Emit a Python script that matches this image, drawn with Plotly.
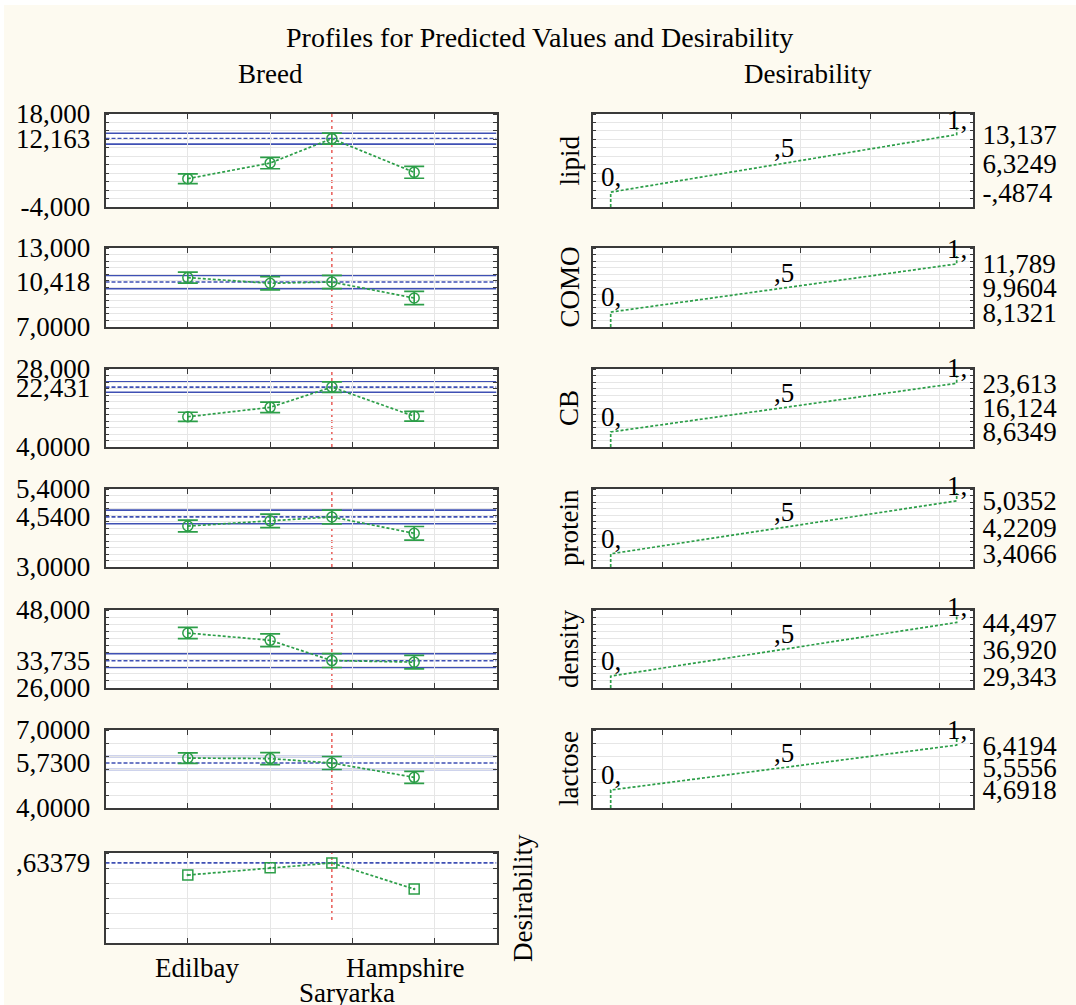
import plotly.graph_objects as go

W, H = 1076, 1005

# ---------------- data ----------------
responses = ["lipid", "COMO", "CB", "protein", "density", "lactose"]
breed_labels = ["Edilbay", "Saryarka", "Hampshire"]
x_levels = [1, 2, 2.75, 3.75]          # positions of the four factor levels on the breed axis
current_idx = 2                          # current setting (red line)

means = {
    "lipid":   [2.7, 6.4, 12.163, 4.2],
    "COMO":    [10.75, 10.32, 10.418, 9.2],
    "CB":      [13.3, 16.2, 22.431, 13.45],
    "protein": [4.26, 4.42, 4.54, 4.036],
    "density": [41.5, 39.45, 33.735, 33.3],
    "lactose": [5.92, 5.90, 5.73, 5.18],
}
errs = {
    "lipid":   [1.15, 1.35, 1.3, 1.4],
    "COMO":    [0.42, 0.5, 0.5, 0.5],
    "CB":      [1.4, 1.6, 1.6, 1.5],
    "protein": [0.18, 0.21, 0.21, 0.21],
    "density": [1.6, 1.8, 1.95, 1.9],
    "lactose": [0.2, 0.23, 0.25, 0.23],
}
y_ranges = {
    "lipid": [-4, 18], "COMO": [7, 13], "CB": [4, 28],
    "protein": [3, 5.4], "density": [26, 48], "lactose": [4, 7],
}
y_steps = {"lipid": 2, "COMO": 0.5, "CB": 2, "protein": 0.2, "density": 2, "lactose": 0.5}
left_ticktext = {
    "lipid":   ["18,000", "12,163", "-4,000"],
    "COMO":    ["13,000", "10,418", "7,0000"],
    "CB":      ["28,000", "22,431", "4,0000"],
    "protein": ["5,4000", "4,5400", "3,0000"],
    "density": ["48,000", "33,735", "26,000"],
    "lactose": ["7,0000", "5,7300", "4,0000"],
}
# desirability function: response values giving desirability 0, .5, 1
desir_vals = {
    "lipid":   [-0.4874, 6.3249, 13.137],
    "COMO":    [8.1321, 9.9604, 11.789],
    "CB":      [8.6349, 16.124, 23.613],
    "protein": [3.4066, 4.2209, 5.0352],
    "density": [29.343, 36.920, 44.497],
    "lactose": [4.6918, 5.5556, 6.4194],
}
desir_ticktext = {
    "lipid":   ["-,4874", "6,3249", "13,137"],
    "COMO":    ["8,1321", "9,9604", "11,789"],
    "CB":      ["8,6349", "16,124", "23,613"],
    "protein": ["3,4066", "4,2209", "5,0352"],
    "density": ["29,343", "36,920", "44,497"],
    "lactose": ["4,6918", "5,5556", "6,4194"],
}
desir_levels = [0, 0.5, 1]
desir_level_text = ["0,", ",5", "1,"]

overall_desir = [0.553, 0.602, 0.63379, 0.46]
overall_range = [0.1, 0.7]
overall_ticktext = [",63379"]
overall_redline_low = 0.253

# ---------------- style ----------------
FONT = "Liberation Serif, Times New Roman, serif"
green = "#2C9E48"
blue = "#3F50B4"
red = "#E5413B"
axcol = "#3A3A3A"
gridcol = "#E6E6E6"
cream = "#FDFAF0"

left_xdom = [105.5 / W, 496.5 / W]
right_xdom = [592.7 / W, 973.3 / W]
panels_px = [(114, 207), (248, 327), (369, 447), (489, 567), (610, 688), (730, 808), (853, 943)]
left_xrange = [0, 4.75]
left_xgrid = [1, 2, 3, 4]
right_xrange = [-0.052, 1.048]


def ydom(top, bot):
    return [1 - bot / H, 1 - top / H]


fig = go.Figure()
layout = {}
shapes = []
annotations = []


def left_xaxis(n):
    return dict(domain=left_xdom, anchor=f"y{n}", range=left_xrange, tickmode="array",
                tickvals=left_xgrid, showticklabels=False, ticks="inside", ticklen=5,
                tickcolor=axcol, showgrid=True, gridcolor=gridcol, zeroline=False,
                showline=True, linecolor=axcol, linewidth=1.5, mirror="ticks", fixedrange=True,
                automargin=False)


def yaxis_common(n, dom, rng, step, side):
    return dict(domain=dom, anchor=f"x{n}", range=rng, side=side, ticks="", showgrid=False,
                zeroline=False, showline=True, linecolor=axcol, linewidth=1.5, mirror="ticks",
                tickfont=dict(family=FONT, size=27, color="black"),
                ticklabelstandoff=8 if side == "left" else 2,
                minor=dict(tickmode="linear", tick0=rng[0], dtick=step, ticks="inside", ticklen=4,
                           tickcolor=axcol, showgrid=True, gridcolor=gridcol),
                fixedrange=True, automargin=False)


for i, r in enumerate(responses):
    L, R = 2 * i + 1, 2 * i + 2
    top, bot = panels_px[i]
    dom = ydom(top, bot)
    lo, hi = y_ranges[r]
    m, e = means[r], errs[r]
    cur, ci = m[current_idx], e[current_idx]

    xl = "xaxis" if L == 1 else f"xaxis{L}"
    yl = "yaxis" if L == 1 else f"yaxis{L}"
    layout[xl] = left_xaxis(L)
    ya = yaxis_common(L, dom, [lo, hi], y_steps[r], "left")
    ya.update(tickmode="array", tickvals=[hi, cur, lo], ticktext=left_ticktext[r])
    layout[yl] = ya

    layout[f"xaxis{R}"] = dict(domain=right_xdom, anchor=f"y{R}", range=right_xrange,
                               tickmode="linear", tick0=0.15, dtick=0.2, showticklabels=False,
                               ticks="inside", ticklen=5, tickcolor=axcol, showgrid=True,
                               gridcolor=gridcol, zeroline=False, showline=True, linecolor=axcol,
                               linewidth=1.5, mirror="ticks", fixedrange=True, automargin=False)
    yr = yaxis_common(R, dom, [lo, hi], y_steps[r], "right")
    yr.update(tickmode="array", tickvals=desir_vals[r], ticktext=desir_ticktext[r])
    layout[f"yaxis{R}"] = yr

    xref_l = "x" if L == 1 else f"x{L}"
    yref_l = "y" if L == 1 else f"y{L}"

    # horizontal lines for current predicted value and CI
    for yv, dash, wd in [(cur + ci, "solid", 1.6), (cur - ci, "solid", 1.6), (cur, "4px,2px", 1.7)]:
        shapes.append(dict(type="line", xref=xref_l, x0=left_xrange[0], x1=left_xrange[1],
                           yref=yref_l, y0=yv, y1=yv,
                           line=dict(color=blue, width=wd, dash=dash), layer="below"))
    # red current-level line
    shapes.append(dict(type="line", xref=xref_l, x0=x_levels[current_idx], x1=x_levels[current_idx],
                       yref=yref_l, y0=lo, y1=hi,
                       line=dict(color=red, width=1.3, dash="dot"), layer="below"))

    fig.add_trace(go.Scatter(
        x=x_levels, y=m, xaxis=xref_l, yaxis=yref_l, mode="lines+markers",
        line=dict(color=green, width=1.7, dash="3px,2px"),
        marker=dict(symbol="circle-open", size=10, color=green, line=dict(width=1.5)),
        error_y=dict(type="data", array=e, color=green, thickness=1.7, width=10),
        showlegend=False, hoverinfo="skip"))

    # desirability function
    dl, dm, dh = desir_vals[r]
    dtop = dh + 0.1 * (hi - lo)
    fig.add_trace(go.Scatter(
        x=[desir_levels[0], desir_levels[0], desir_levels[2], desir_levels[2]],
        y=[lo, dl, dh, dtop], xaxis=f"x{R}", yaxis=f"y{R}", mode="lines",
        line=dict(color=green, width=1.7, dash="3px,2px"), showlegend=False, hoverinfo="skip",
        cliponaxis=False))
    for lev, yv, txt in zip(desir_levels, desir_vals[r], desir_level_text):
        annotations.append(dict(xref=f"x{R}", yref=f"y{R}", x=lev, y=yv, text=txt,
                                showarrow=False, xanchor="center", yanchor="bottom", yshift=-2,
                                font=dict(family=FONT, size=27, color="black")))
    # response name
    annotations.append(dict(xref="paper", yref="paper", x=569 / W, y=1 - (top + bot) / 2 / H,
                            text=r, textangle=-90, showarrow=False, xanchor="center",
                            yanchor="middle", font=dict(family=FONT, size=27, color="black")))

# overall desirability panel
N = 13
top, bot = panels_px[6]
layout[f"xaxis{N}"] = left_xaxis(N)
yd = yaxis_common(N, ydom(top, bot), overall_range, 0.1, "left")
yd.update(tickmode="array", tickvals=[overall_desir[current_idx]], ticktext=overall_ticktext)
layout[f"yaxis{N}"] = yd
shapes.append(dict(type="line", xref=f"x{N}", x0=left_xrange[0], x1=left_xrange[1], yref=f"y{N}",
                   y0=overall_desir[current_idx], y1=overall_desir[current_idx],
                   line=dict(color=blue, width=1.7, dash="4px,2px"), layer="below"))
shapes.append(dict(type="line", xref=f"x{N}", x0=x_levels[current_idx], x1=x_levels[current_idx],
                   yref=f"y{N}", y0=overall_redline_low, y1=overall_range[1],
                   line=dict(color=red, width=1.3, dash="dot"), layer="below"))
fig.add_trace(go.Scatter(
    x=x_levels, y=overall_desir, xaxis=f"x{N}", yaxis=f"y{N}", mode="lines+markers",
    line=dict(color=green, width=1.7, dash="3px,2px"),
    marker=dict(symbol="square-open-dot", size=10, color=green, line=dict(width=1.5)),
    showlegend=False, hoverinfo="skip"))

# white screenshot border strips
shapes.append(dict(type="rect", xref="paper", yref="paper", x0=0, x1=1, y0=1 - 5 / H, y1=1,
                   fillcolor="white", line=dict(width=0), layer="below"))
shapes.append(dict(type="rect", xref="paper", yref="paper", x0=0, x1=4 / W, y0=0, y1=1,
                   fillcolor="white", line=dict(width=0), layer="below"))

# titles and labels
def txt(t, x, y, size=27, angle=0):
    annotations.append(dict(xref="paper", yref="paper", x=x / W, y=1 - y / H, text=t,
                            textangle=angle, showarrow=False, xanchor="center", yanchor="middle",
                            font=dict(family=FONT, size=size, color="black")))

txt("Profiles for Predicted Values and Desirability", 539, 38, size=28)
txt("Breed", 270, 74)
txt("Desirability", 808, 74)
txt(breed_labels[0], 197, 968)
txt(breed_labels[2], 405, 968)
txt(breed_labels[1], 347, 993)
txt("Desirability", 523, 898, angle=-90)

layout.update(width=W, height=H, margin=dict(l=0, r=0, t=0, b=0, autoexpand=False),
              paper_bgcolor=cream, plot_bgcolor="white", showlegend=False, shapes=shapes,
              annotations=annotations, font=dict(family=FONT, color="black"))
fig.update_layout(**layout)
fig.write_html("out.html", config={"displayModeBar": False},
               post_script="document.body.style.margin='0px';")
